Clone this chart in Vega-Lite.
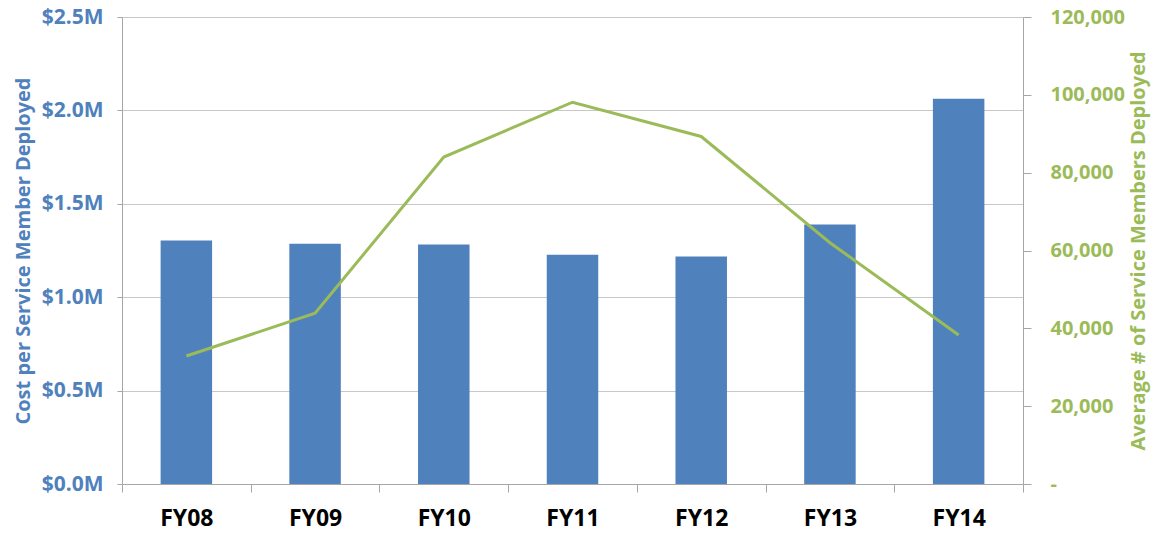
{
  "$schema": "https://vega.github.io/schema/vega-lite/v6.json",
  "autosize": {"type": "none"},
  "padding": {"left": 122, "top": 17, "right": 131, "bottom": 52},
  "width": 901,
  "height": 467,
  "background": "white",
  "config": {
    "view": {"stroke": null},
    "font": "Open Sans",
    "axis": {"labelFontWeight": "bold", "titleFontWeight": "bold", "domainColor": "#a6a6a6", "tickColor": "#a6a6a6", "gridColor": "#c8c8c8"}
  },
  "data": {
    "values": [
      {"year": "FY08", "cost": 1303000, "members": 32900},
      {"year": "FY09", "cost": 1286000, "members": 43900},
      {"year": "FY10", "cost": 1282000, "members": 84000},
      {"year": "FY11", "cost": 1227000, "members": 98100},
      {"year": "FY12", "cost": 1218000, "members": 89300},
      {"year": "FY13", "cost": 1389000, "members": 62000},
      {"year": "FY14", "cost": 2062000, "members": 38300}
    ]
  },
  "encoding": {
    "x": {
      "field": "year", "type": "nominal", "sort": null,
      "scale": {"paddingInner": 0, "paddingOuter": 0},
      "axis": {"title": null, "labelAngle": 0, "labelFontSize": 23, "labelColor": "#000000", "labelPadding": 15, "tickBand": "extent", "tickSize": 8, "grid": false}
    }
  },
  "layer": [
    {
      "mark": {"type": "bar", "color": "#4F81BD", "width": {"band": 0.4}},
      "encoding": {
        "y": {
          "field": "cost", "type": "quantitative",
          "scale": {"domain": [0, 2500000], "nice": false},
          "axis": {
            "title": "Cost per Service Member Deployed",
            "titleColor": "#4F81BD", "titleFontSize": 20, "titlePadding": 8,
            "labelColor": "#4F81BD", "labelFontSize": 21, "labelPadding": 14, "tickSize": 5,
            "values": [0, 500000, 1000000, 1500000, 2000000, 2500000],
            "labelExpr": "'$' + format(datum.value / 1000000, '.1f') + 'M'",
            "grid": true
          }
        }
      }
    },
    {
      "mark": {"type": "line", "color": "#9BBB59", "strokeWidth": 3},
      "encoding": {
        "y": {
          "field": "members", "type": "quantitative",
          "scale": {"domain": [0, 120000], "nice": false},
          "axis": {
            "orient": "right",
            "title": "Average # of Service Members Deployed",
            "titleAngle": -90,
            "titleBaseline": "top",
            "titleColor": "#9BBB59", "titleFontSize": 20, "titlePadding": 4,
            "labelColor": "#9BBB59", "labelFontSize": 20, "labelPadding": 19, "tickSize": 8,
            "values": [0, 20000, 40000, 60000, 80000, 100000, 120000],
            "labelExpr": "datum.value == 0 ? '-' : format(datum.value, ',')",
            "grid": false
          }
        }
      }
    }
  ],
  "resolve": {"scale": {"y": "independent"}}
}
